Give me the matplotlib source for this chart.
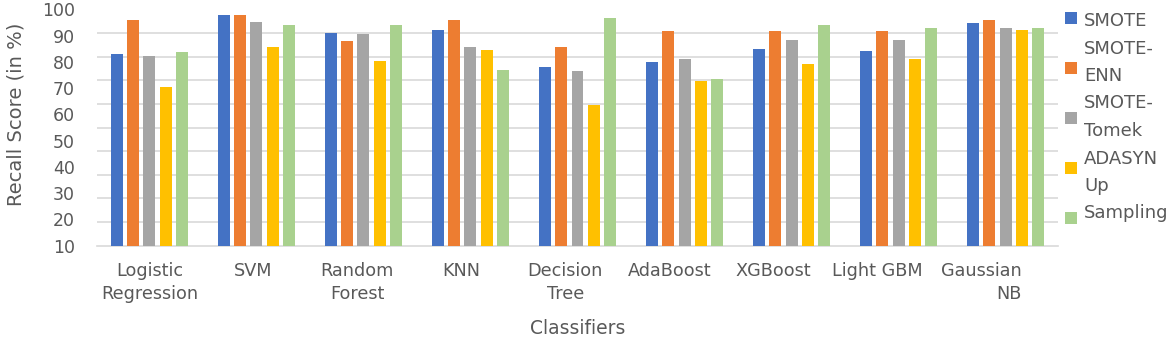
import numpy as np
import matplotlib
matplotlib.use("Agg")
import matplotlib.pyplot as plt
from matplotlib.patches import Rectangle

# recall scores (in %)
classifiers = ["Logistic\nRegression", "SVM", "Random\nForest", "KNN", "Decision\nTree",
               "AdaBoost", "XGBoost", "Light GBM", "Gaussian\nNB"]
smote = [83.0, 98.0, 91.0, 92.0, 78.2, 80.1, 85.0, 84.0, 94.9]
smote_enn = [95.9, 98.0, 87.9, 95.9, 85.8, 91.9, 91.9, 91.9, 95.9]
smote_tomek = [82.4, 95.1, 90.6, 85.8, 76.5, 81.2, 88.2, 88.2, 92.9]
adasyn = [70.3, 85.7, 80.2, 84.5, 63.7, 72.6, 79.1, 81.2, 92.2]
up_sampling = [83.8, 94.2, 94.2, 76.8, 96.5, 73.4, 94.2, 92.9, 92.9]

series_names = ["SMOTE", "SMOTE-ENN", "SMOTE-Tomek", "ADASYN", "Up Sampling"]
legend_labels = ["SMOTE", "SMOTE-\nENN", "SMOTE-\nTomek", "ADASYN", "Up\nSampling"]
colors = ["#4472C4", "#ED7D31", "#A5A5A5", "#FFC000", "#A9D18E"]

text_col = "#595959"
grid_col = "#D9D9D9"

W, H = 1170, 344
fig = plt.figure(figsize=(W / 100, H / 100), dpi=100)
ax = fig.add_axes([97 / W, 1 - 245.7 / H, 961 / W, 236.4 / H])

x = np.arange(len(classifiers))
bar_w = 0.112
step = 0.153
all_series = [smote, smote_enn, smote_tomek, adasyn, up_sampling]
for k, (vals, col) in enumerate(zip(all_series, colors)):
    ax.bar(x + (k - 2) * step, vals, width=bar_w, color=col, zorder=3,
           label=series_names[k])

ax.set_xlim(-0.49, len(classifiers) - 0.51)
ax.set_ylim(10, 100)
ax.set_yticks(np.arange(10, 101, 10))
ax.set_yticks(np.linspace(10, 100, 11), minor=True)
ax.tick_params(axis="y", which="both", length=0, pad=16, labelsize=12.5, labelcolor=text_col)
ax.grid(axis="y", which="minor", color=grid_col, linewidth=1.2, zorder=0)
ax.set_xticks([])
for s in ["top", "right", "left"]:
    ax.spines[s].set_visible(False)
ax.spines["bottom"].set_color(grid_col)
ax.spines["bottom"].set_linewidth(1.2)
ax.set_ylabel("Recall Score (in %)", fontsize=14, color=text_col)
ax.yaxis.set_label_coords(-0.074, 0.557)

# category labels sit slightly tighter than the bar groups in the original
ax2 = ax.twiny()
ax2.set_xlim(-0.503, 8.737)
ax2.xaxis.set_ticks_position("bottom")
ax2.xaxis.set_label_position("bottom")
ax2.set_xticks(x)
ax2.set_xticklabels(classifiers, fontsize=12.7, color=text_col, linespacing=1.3)
for lab in ax2.get_xticklabels():
    lab.set_multialignment("right" if lab.get_text().startswith("Gaussian") else "center")
ax2.tick_params(axis="x", length=0, pad=12)
for s in ax2.spines.values():
    s.set_visible(False)
fig.text(578 / W, 1 - 328 / H, "Classifiers", ha="center", va="center",
         fontsize=13.5, color=text_col)

# legend, laid out like the wrapped Excel legend
line_y = 21
for lab in legend_labels:
    for part in lab.split("\n"):
        fig.text(1084 / W, 1 - line_y / H, part, ha="left", va="center",
                 fontsize=13, color=text_col)
        line_y += 27.5
for k, col in enumerate(colors):
    my = 18 + 50 * k
    fig.patches.append(Rectangle((1065 / W, 1 - (my + 6) / H), 12 / W, 12 / H,
                                 transform=fig.transFigure, facecolor=col,
                                 edgecolor="none"))

fig.savefig("out.png", dpi=100)
